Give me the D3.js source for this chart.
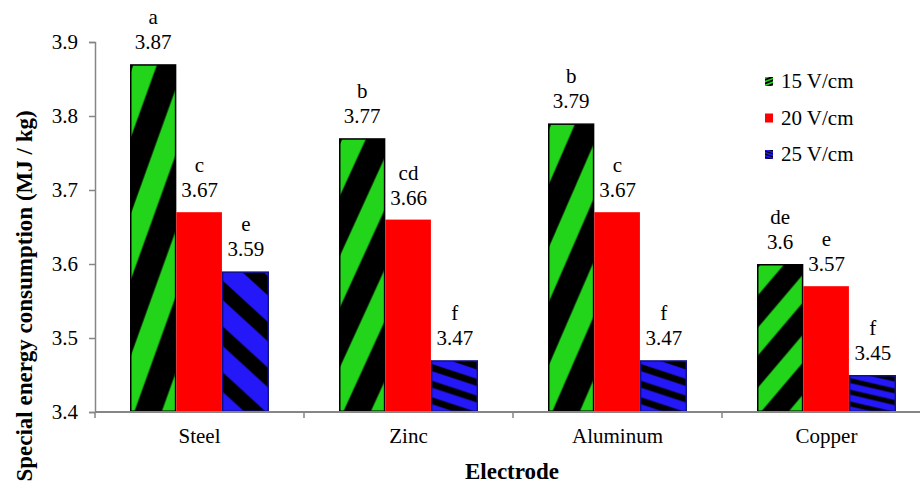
<!DOCTYPE html>
<html>
<head>
<meta charset="utf-8">
<script src="https://cdn.jsdelivr.net/npm/d3@7"></script>
<style>
  html, body { margin: 0; padding: 0; background: #fff; }
  svg { display: block; }
</style>
</head>
<body>
<svg id="chart" width="920" height="502"></svg>
<script>
// Electrodes and field strengths
const categories = ["Steel", "Zinc", "Aluminum", "Copper"];
const seriesNames = ["15 V/cm", "20 V/cm", "25 V/cm"];

// Special energy consumption (MJ / kg) per electrode, one array per field strength
const v15 = [3.87, 3.77, 3.79, 3.60];
const v20 = [3.67, 3.66, 3.67, 3.57];
const v25 = [3.59, 3.47, 3.47, 3.45];

// Value labels as printed and significance letters
const labels15 = ["3.87", "3.77", "3.79", "3.6"];
const labels20 = ["3.67", "3.66", "3.67", "3.57"];
const labels25 = ["3.59", "3.47", "3.47", "3.45"];
const letters15 = ["a", "b", "b", "de"];
const letters20 = ["c", "cd", "c", "e"];
const letters25 = ["e", "f", "f", "f"];

const yTicks = [3.4, 3.5, 3.6, 3.7, 3.8, 3.9];

const FONT = '"Liberation Serif", serif';

const svg = d3.select("#chart");
const plotLeft = 95, plotRight = 931, plotTop = 42, plotBottom = 412;

const x0 = d3.scaleBand().domain(categories).range([plotLeft, plotRight]).padding(0);
const x1 = d3.scaleBand().domain(seriesNames).range([35, 174]).padding(0);
const y = d3.scaleLinear().domain([3.4, 3.9]).range([plotBottom, plotTop]);

// Stretched diagonal stripe fills (scale with each bar, like a stretched picture fill)
const defs = svg.append("defs");
function stripePattern(id, bg, fg, dir, phase, period, width, slope) {
  const p = defs.append("pattern")
    .attr("id", id)
    .attr("patternUnits", "objectBoundingBox")
    .attr("patternContentUnits", "objectBoundingBox")
    .attr("width", 1).attr("height", 1);
  p.append("rect").attr("width", 1).attr("height", 1).attr("fill", bg);
  for (let k = -4; k <= 5; k++) {
    const c = phase + k * period;
    let pts;
    if (dir === "up") {
      pts = [[0, c], [0, c + width], [1, c + width - slope], [1, c - slope]];
    } else {
      pts = [[0, c], [1, c + slope], [1, c + slope + width], [0, c + width]];
    }
    p.append("polygon").attr("points", pts.map(d => d.join(",")).join(" ")).attr("fill", fg);
  }
}
stripePattern("pat15", "#000000", "#22d41a", "up", 0.02, 0.41, 0.19, 0.36);
stripePattern("pat25", "#2418f8", "#000000", "down", 0.06, 0.33, 0.14, 0.3);

const fills = ["url(#pat15)", "#ff0000", "url(#pat25)"];
const strokes = ["#000000", "none", "#10108a"];

const series = [
  { name: seriesNames[0], values: v15, labels: labels15, letters: letters15 },
  { name: seriesNames[1], values: v20, labels: labels20, letters: letters20 },
  { name: seriesNames[2], values: v25, labels: labels25, letters: letters25 }
];

function label(sel, size, weight) {
  return sel.style("font-family", FONT).style("font-size", size + "px")
    .style("font-weight", weight || "normal").attr("fill", "#000");
}

// Bars
categories.forEach((cat, ci) => {
  const g = svg.append("g").attr("transform", `translate(${x0(cat)},0)`);
  series.forEach((s, si) => {
    const v = s.values[ci];
    const bx = x1(s.name), bw = x1.bandwidth();
    g.append("rect")
      .attr("x", bx + (si === 0 ? 0.75 : 0))
      .attr("y", y(v) + (si === 1 ? 0 : 0.75))
      .attr("width", bw - (si === 0 ? 1.5 : 0.75))
      .attr("height", plotBottom - y(v) - (si === 1 ? 0 : 1.5))
      .attr("fill", fills[si])
      .attr("stroke", strokes[si])
      .attr("stroke-width", si === 1 ? 0 : 1.5);
    label(g.append("text"), 21)
      .attr("x", bx + bw / 2)
      .attr("y", y(v) - 15)
      .attr("text-anchor", "middle")
      .text(s.labels[ci]);
    label(g.append("text"), 21)
      .attr("x", bx + bw / 2)
      .attr("y", y(v) - 40)
      .attr("text-anchor", "middle")
      .text(s.letters[ci]);
  });
});

// Y axis
const yAxis = svg.append("g")
  .attr("transform", `translate(${plotLeft},0)`)
  .call(d3.axisLeft(y).tickValues(yTicks).tickSize(6).tickPadding(11).tickFormat(d3.format(".1f")));
yAxis.select(".domain").attr("stroke", "#868686").attr("stroke-width", 1.5);
yAxis.selectAll(".tick line").attr("stroke", "#868686").attr("stroke-width", 1.5);
label(yAxis.selectAll(".tick text"), 21);

// X axis: baseline with ticks at category boundaries
const xAxis = svg.append("g").attr("transform", `translate(0,${plotBottom})`);
xAxis.append("line").attr("x1", plotLeft).attr("x2", plotRight).attr("y1", 0).attr("y2", 0)
  .attr("stroke", "#868686").attr("stroke-width", 2);
const bounds = categories.map(c => x0(c)).concat([plotRight]);
xAxis.selectAll("line.tk").data(bounds).join("line").attr("class", "tk")
  .attr("x1", d => d).attr("x2", d => d).attr("y1", 0).attr("y2", 6)
  .attr("stroke", "#868686").attr("stroke-width", 1.5);
label(xAxis.selectAll("text.cat").data(categories).join("text").attr("class", "cat"), 21)
  .attr("x", d => x0(d) + x0.bandwidth() / 2)
  .attr("y", 31)
  .attr("text-anchor", "middle")
  .text(d => d);

// Axis titles
label(svg.append("text"), 23, "bold")
  .attr("x", 512).attr("y", 479)
  .attr("text-anchor", "middle")
  .text("Electrode");
label(svg.append("text"), 23, "bold")
  .attr("transform", "translate(32,296) rotate(-90)")
  .attr("text-anchor", "middle")
  .text("Special energy consumption (MJ / kg)");

// Legend
const legend = svg.append("g");
series.forEach((s, si) => {
  const ly = 81 + si * 36.5;
  legend.append("rect")
    .attr("x", 765).attr("y", ly - 4).attr("width", 8).attr("height", 9)
    .attr("fill", fills[si]);
  label(legend.append("text"), 21)
    .attr("x", 781).attr("y", ly + 7)
    .text(s.name);
});
</script>
</body>
</html>
